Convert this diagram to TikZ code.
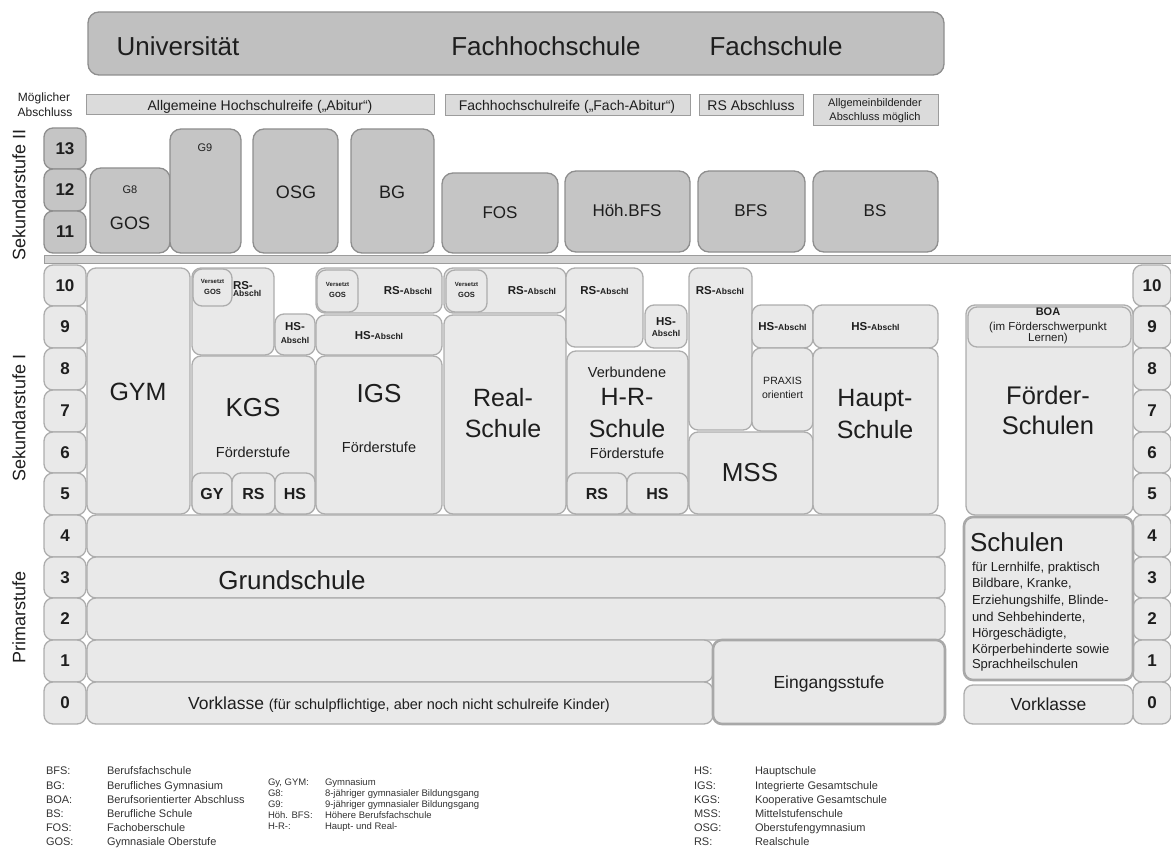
\documentclass[tikz,border=0pt]{standalone}
\usepackage{fontspec}
\setmainfont{Liberation Sans}
\definecolor{cTop}{HTML}{C0C0C0}
\definecolor{cBordII}{HTML}{8E8E8E}
\definecolor{cFillII}{HTML}{C5C5C5}
\definecolor{cFillI}{HTML}{E9E9E9}
\definecolor{cBordI}{HTML}{ADADAD}
\definecolor{cBarF}{HTML}{DBDBDB}
\definecolor{cBarB}{HTML}{9C9C9C}
\definecolor{cSep}{HTML}{D3D3D3}
\definecolor{cHeavy}{HTML}{A8A8A8}
\definecolor{cTxt}{HTML}{1E1E1E}
\definecolor{cLeg}{HTML}{333333}
\newcommand\fs[1]{\fontsize{#1}{#1}\selectfont}
% style, name, x1, y1, x2, y2, text
\newcommand\BoxAt[7][]{\node[#1, minimum width={#5-#3}, minimum height={#6-#4}] (#2) at ({(#3+#5)/2},{(#4+#6)/2}) {#7};}
% options, name, x, y (cap centre), size, text
\newcommand\TxtAt[6][]{\node[tx, anchor=base, font=\fs{#5}, #1] (#2) at (#3,{#4+0.358*#5}) {#6};}
\begin{document}
\begin{tikzpicture}[x=1pt, y=-1pt,
  box/.style={rectangle, inner sep=0pt, outer sep=0pt},
  topbox/.style={box, draw=cBordII, fill=cTop, line width=1.3pt, rounded corners=11pt},
  bar/.style={box, draw=cBarB, fill=cBarF, line width=1pt},
  sepbar/.style={box, draw=cBarB, fill=cSep, line width=1pt},
  gradeII/.style={box, draw=cBordII, fill=cFillII, line width=1.3pt, rounded corners=9pt, font=\bfseries\fs{17}, text=cTxt},
  gradeI/.style={box, draw=cBordI, fill=cFillI, line width=1.3pt, rounded corners=9pt, font=\bfseries\fs{17}, text=cTxt},
  s2/.style={box, draw=cBordII, fill=cFillII, line width=1.3pt, rounded corners=11pt},
  s1/.style={box, draw=cBordI, fill=cFillI, line width=1.3pt, rounded corners=9pt},
  heavybox/.style={s1, draw=cHeavy, line width=2.6pt},
  tx/.style={inner sep=0pt, outer sep=0pt, text=cTxt},
  leg/.style={tx, text=cLeg}
]
\useasboundingbox (0,0) rectangle (1171,848);

% ---------- top
\BoxAt[topbox]{top}{88}{12}{944}{75}{}
\TxtAt{uni}{178}{46}{26}{Universität}
\TxtAt{fhs}{546}{46}{26}{Fachhochschule}
\TxtAt{fsch}{776}{46}{26}{Fachschule}

% ---------- Abschluss
\TxtAt{moeg}{44}{97}{12}{Möglicher}
\TxtAt{absch}{45}{112}{12}{Abschluss}
\BoxAt[bar]{ab1}{86}{95}{434}{115}{}
\TxtAt{ab1t}{260}{105}{14}{Allgemeine Hochschulreife („Abitur“)}
\BoxAt[bar]{ab2}{445}{95}{690}{116}{}
\TxtAt{ab2t}{567}{105.5}{14}{Fachhochschulreife („Fach-Abitur“)}
\BoxAt[bar]{ab3}{699}{95}{803}{116}{}
\TxtAt{ab3t}{751}{105.5}{14}{RS Abschluss}
\BoxAt[bar]{ab4}{813}{95}{938}{126}{}
\TxtAt{ab4a}{875}{103}{11}{Allgemeinbildender}
\TxtAt{ab4b}{875}{117}{11}{Abschluss möglich}

% ---------- Sekundarstufe II
\BoxAt[gradeII]{g13}{44}{128}{86}{169}{13}
\BoxAt[gradeII]{g12}{44}{169}{86}{211}{12}
\BoxAt[gradeII]{g11}{44}{211}{86}{253}{11}
\BoxAt[s2]{gos}{90}{168}{170}{253}{}
\TxtAt{g8t}{130}{190}{11}{G8}
\TxtAt{gost}{130}{223}{18}{GOS}
\BoxAt[s2]{g9}{170}{129}{241}{253}{}
\TxtAt{g9t}{205}{148}{11}{G9}
\BoxAt[s2]{osg}{253}{129}{338}{253}{}
\TxtAt{osgt}{296}{192}{18}{OSG}
\BoxAt[s2]{bg}{351}{129}{434}{253}{}
\TxtAt{bgt}{392}{192}{18}{BG}
\BoxAt[s2]{fos}{442}{173}{558}{253}{}
\TxtAt{fost}{500}{212}{17}{FOS}
\BoxAt[s2]{hbfs}{565}{171}{690}{252}{}
\TxtAt{hbfst}{627}{210}{17}{Höh.BFS}
\BoxAt[s2]{bfs}{698}{171}{805}{252}{}
\TxtAt{bfst}{751}{210}{17}{BFS}
\BoxAt[s2]{bs}{813}{171}{938}{252}{}
\TxtAt{bst}{875}{210}{17}{BS}

\BoxAt[sepbar]{sep}{44}{255}{1173}{263}{}

% ---------- grade boxes Sek I / Primar
\foreach \n/\a/\b in {10/265/306, 9/306/348, 8/348/390, 7/390/432, 6/432/473, 5/473/515, 4/515/557, 3/557/598, 2/598/640, 1/640/682, 0/682/724}{
  \BoxAt[gradeI]{gl\n}{44}{\a}{86}{\b}{\n}
  \BoxAt[gradeI]{gr\n}{1133}{\a}{1171}{\b}{\n}
}

% GYM
\BoxAt[s1]{gym}{87}{268}{190}{514}{}
\TxtAt{gymt}{138}{392}{25}{GYM}
% KGS
\BoxAt[s1]{kgstop}{192}{268}{274}{355}{}
\BoxAt[s1]{kgsvg}{193}{269}{232}{306}{}
\TxtAt{kgsv1}{212.5}{281}{6}{\bfseries Versetzt}
\TxtAt{kgsv2}{212.5}{292}{7.5}{\bfseries GOS}
\TxtAt[anchor=base west]{kgsrs1}{233}{285.5}{11.5}{\bfseries RS-}
\TxtAt[anchor=base west]{kgsrs2}{233}{293.5}{8.5}{\bfseries Abschl}
\BoxAt[s1]{kgshs}{275}{314}{315}{355}{}
\TxtAt{kgshs1}{295}{326.5}{11.5}{\bfseries HS-}
\TxtAt{kgshs2}{295}{340.5}{8.5}{\bfseries Abschl}
\BoxAt[s1]{kgs}{192}{356}{315}{514}{}
\TxtAt{kgst}{253}{407}{26}{KGS}
\TxtAt{kgsf}{253}{452}{14.5}{Förderstufe}
\BoxAt[s1]{kgsgy}{192}{473}{232}{514}{}
\TxtAt{kgsgyt}{212}{493.5}{16}{\bfseries GY}
\BoxAt[s1]{kgsrs}{232}{473}{275}{514}{}
\TxtAt{kgsrst}{253.5}{493.5}{16}{\bfseries RS}
\BoxAt[s1]{kgshsb}{275}{473}{315}{514}{}
\TxtAt{kgshsbt}{295}{493.5}{16}{\bfseries HS}
% IGS
\BoxAt[s1]{igstop}{316}{268}{442}{313}{}
\BoxAt[s1]{igsvg}{317}{270}{358}{312}{}
\TxtAt{igsv1}{337.5}{284}{6}{\bfseries Versetzt}
\TxtAt{igsv2}{337.5}{295}{7.5}{\bfseries GOS}
\TxtAt{igsrs}{408}{290}{11.5}{\bfseries RS-{\fs{8.5}Abschl}}
\BoxAt[s1]{igshs}{316}{315}{442}{355}{}
\TxtAt{igshst}{379}{335}{11.5}{\bfseries HS-{\fs{8.5}Abschl}}
\BoxAt[s1]{igs}{316}{356}{442}{514}{}
\TxtAt{igst}{379}{393}{26}{IGS}
\TxtAt{igsf}{379}{447}{14.5}{Förderstufe}
% Realschule
\BoxAt[s1]{rstop}{444}{268}{566}{313}{}
\BoxAt[s1]{rsvg}{446}{270}{487}{312}{}
\TxtAt{rsv1}{466.5}{284}{6}{\bfseries Versetzt}
\TxtAt{rsv2}{466.5}{295}{7.5}{\bfseries GOS}
\TxtAt{rsrs}{532}{290}{11.5}{\bfseries RS-{\fs{8.5}Abschl}}
\BoxAt[s1]{rs}{444}{315}{566}{514}{}
\TxtAt{rst1}{503}{398}{25}{Real-}
\TxtAt{rst2}{503}{429}{25}{Schule}
% H-R-Schule
\BoxAt[s1]{hrtop}{566}{268}{643}{347}{}
\TxtAt{hrrs}{604.5}{290}{11.5}{\bfseries RS-{\fs{8.5}Abschl}}
\BoxAt[s1]{hrhs}{645}{305}{687}{348}{}
\TxtAt{hrhs1}{666}{321}{11.5}{\bfseries HS-}
\TxtAt{hrhs2}{666}{333.5}{8.5}{\bfseries Abschl}
\BoxAt[s1]{hr}{567}{351}{688}{514}{}
\TxtAt{hrt0}{627}{372}{14.5}{Verbundene}
\TxtAt{hrt1}{627}{397}{25}{H-R-}
\TxtAt{hrt2}{627}{429}{25}{Schule}
\TxtAt{hrt3}{627}{453}{14.5}{Förderstufe}
\BoxAt[s1]{hrrsb}{567}{473}{627}{514}{}
\TxtAt{hrrsbt}{597}{493.5}{16}{\bfseries RS}
\BoxAt[s1]{hrhsb}{627}{473}{688}{514}{}
\TxtAt{hrhsbt}{657.5}{493.5}{16}{\bfseries HS}
% MSS
\BoxAt[s1]{mssrs}{689}{268}{752}{430}{}
\TxtAt{mssrst}{720}{290}{11.5}{\bfseries RS-{\fs{8.5}Abschl}}
\BoxAt[s1]{msshs}{752}{305}{813}{348}{}
\TxtAt{msshst}{782.5}{326.5}{11.5}{\bfseries HS-{\fs{8.5}Abschl}}
\BoxAt[s1]{praxis}{752}{348}{813}{431}{}
\TxtAt{praxt1}{782.5}{381}{10.5}{PRAXIS}
\TxtAt{praxt2}{782.5}{395}{10.5}{orientiert}
\BoxAt[s1]{mss}{689}{432}{813}{514}{}
\TxtAt{msst}{750}{472}{26}{MSS}
% Hauptschule
\BoxAt[s1]{hshs}{813}{305}{938}{348}{}
\TxtAt{hshst}{875.5}{326.5}{11.5}{\bfseries HS-{\fs{8.5}Abschl}}
\BoxAt[s1]{hs}{813}{348}{938}{514}{}
\TxtAt{hst1}{875}{398}{25}{Haupt-}
\TxtAt{hst2}{875}{430}{25}{Schule}
% Förderschulen
\BoxAt[s1]{foer}{966}{305}{1133}{515}{}
\BoxAt[s1]{boa}{968}{307}{1131}{347}{}
\TxtAt{boat1}{1048}{312}{11}{\bfseries BOA}
\TxtAt{boat2}{1048}{326}{11.5}{(im Förderschwerpunkt}
\TxtAt{boat3}{1048}{337.5}{11.5}{Lernen)}
\TxtAt{foert1}{1048}{395}{25.5}{Förder-}
\TxtAt{foert2}{1048}{425}{25.5}{Schulen}
\BoxAt[heavybox]{schul}{964}{517}{1133}{680}{}
\TxtAt[anchor=base west]{schult}{970}{542}{26}{Schulen}
\TxtAt[anchor=base west]{sl1}{972}{567}{13}{für Lernhilfe, praktisch}
\TxtAt[anchor=base west]{sl2}{972}{583}{13}{Bildbare, Kranke,}
\TxtAt[anchor=base west]{sl3}{972}{600}{13}{Erziehungshilfe, Blinde-}
\TxtAt[anchor=base west]{sl4}{972}{616.5}{13}{und Sehbehinderte,}
\TxtAt[anchor=base west]{sl5}{972}{633}{13}{Hörgeschädigte,}
\TxtAt[anchor=base west]{sl6}{972}{648.5}{13}{Körperbehinderte sowie}
\TxtAt[anchor=base west]{sl7}{972}{664}{13}{Sprachheilschulen}
\BoxAt[s1]{vkr}{964}{685}{1133}{724}{}
\TxtAt{vkrt}{1048.5}{704}{17.5}{Vorklasse}

% ---------- Primarstufe
\BoxAt[s1]{gs4}{87}{515}{945}{557}{}
\BoxAt[s1]{gs3}{87}{557}{945}{598}{}
\BoxAt[s1]{gs2}{87}{598}{945}{640}{}
\BoxAt[s1]{gs1}{87}{640}{713}{682}{}
\BoxAt[s1]{vk}{87}{682}{713}{724}{}
\BoxAt[heavybox]{eing}{713}{640}{945}{724}{}
\TxtAt{gst}{292}{580}{26}{Grundschule}
\TxtAt{vkt}{399}{703}{17.5}{Vorklasse {\fs{14.5}(für schulpflichtige, aber noch nicht schulreife Kinder)}}
\TxtAt{eingt}{829}{682}{17.5}{Eingangsstufe}

% ---------- side labels
\node[tx, rotate=90, anchor=base, font=\fs{18}] (lsek2) at (25.4,195) {Sekundarstufe II};
\node[tx, rotate=90, anchor=base, font=\fs{18}] (lsek1) at (25.4,418) {Sekundarstufe I};
\node[tx, rotate=90, anchor=base, font=\fs{18}] (lprim) at (25.4,617) {Primarstufe};

% ---------- legend
\foreach \i/\ab/\de in {0/BFS:/Berufsfachschule, 1/BG:/Berufliches Gymnasium, 2/BOA:/Berufsorientierter Abschluss, 3/BS:/Berufliche Schule, 4/FOS:/Fachoberschule, 5/GOS:/Gymnasiale Oberstufe}{
  \TxtAt[leg, anchor=base west]{la\i}{46}{771+14.2*\i}{11}{\ab}
  \TxtAt[leg, anchor=base west]{ld\i}{107}{771+14.2*\i}{11}{\de}
}
\foreach \i/\ab/\de in {0/{Gy, GYM:}/Gymnasium, 1/G8:/8-jähriger gymnasialer Bildungsgang, 2/G9:/9-jähriger gymnasialer Bildungsgang, 3/Höh. BFS:/Höhere Berufsfachschule, 4/H-R-:/Haupt- und Real-}{
  \TxtAt[leg, anchor=base west]{lb\i}{268}{782+11*\i}{9.5}{\ab}
  \TxtAt[leg, anchor=base west]{le\i}{325}{782+11*\i}{9.5}{\de}
}
\foreach \i/\ab/\de in {0/HS:/Hauptschule, 1/IGS:/Integrierte Gesamtschule, 2/KGS:/Kooperative Gesamtschule, 3/MSS:/Mittelstufenschule, 4/OSG:/Oberstufengymnasium, 5/RS:/Realschule}{
  \TxtAt[leg, anchor=base west]{lc\i}{694}{771+14.2*\i}{11}{\ab}
  \TxtAt[leg, anchor=base west]{lf\i}{755}{771+14.2*\i}{11}{\de}
}
\end{tikzpicture}
\end{document}
